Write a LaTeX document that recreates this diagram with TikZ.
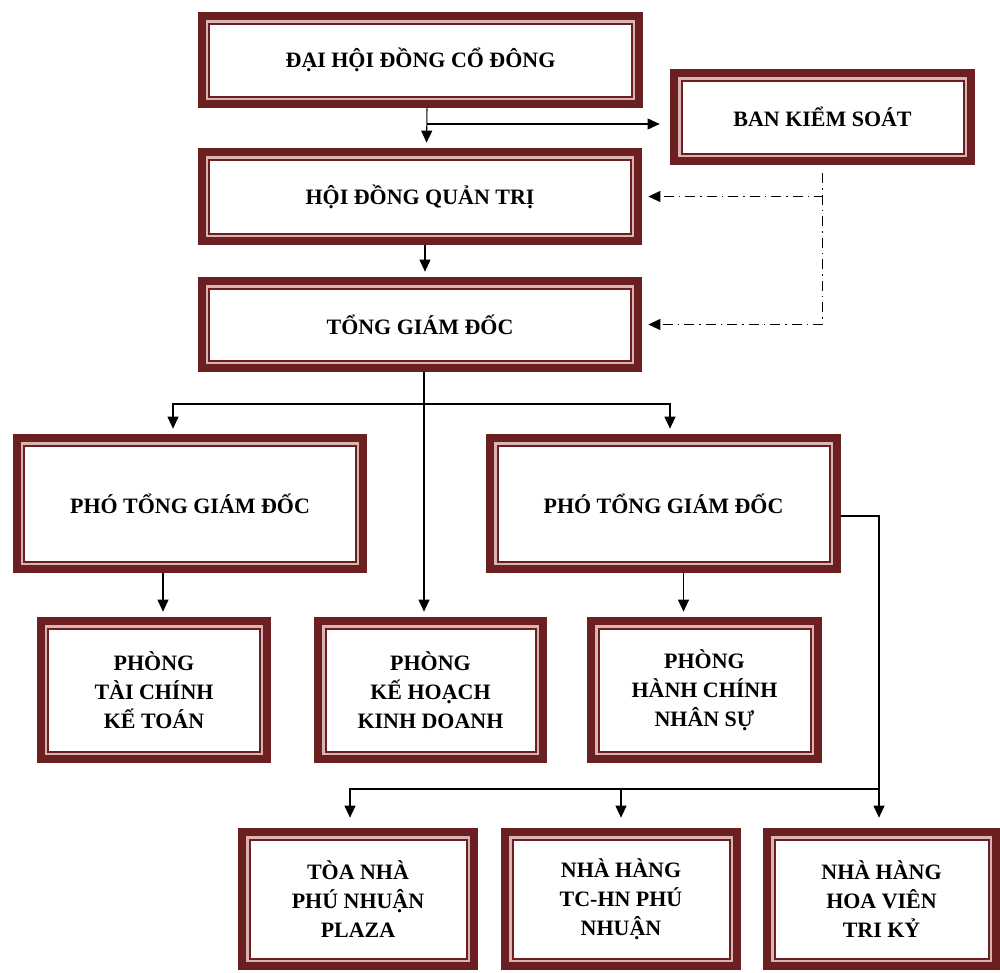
\documentclass[tikz,border=0pt]{standalone}
\usepackage{fontspec}
\setmainfont{Liberation Serif}
\usetikzlibrary{arrows.meta}
\definecolor{nau}{HTML}{6B1F20}
\definecolor{hong}{HTML}{D9B5B2}
\tikzset{
  hop/.style={rectangle, fill=white, align=center, inner sep=0pt,
    font=\fontsize{12.5}{16.5}\selectfont\bfseries,
    path picture={
      \fill[nau] (path picture bounding box.north west) rectangle (path picture bounding box.south east);
      \fill[hong] ([shift={(1.6mm,-1.6mm)}]path picture bounding box.north west) rectangle ([shift={(-1.6mm,1.6mm)}]path picture bounding box.south east);
      \fill[nau] ([shift={(2.1mm,-2.1mm)}]path picture bounding box.north west) rectangle ([shift={(-2.1mm,2.1mm)}]path picture bounding box.south east);
      \fill[white] ([shift={(2.5mm,-2.5mm)}]path picture bounding box.north west) rectangle ([shift={(-2.5mm,2.5mm)}]path picture bounding box.south east);
    }},
  muiten/.style={-{Triangle[length=2.4mm,width=2.2mm]}, line width=0.6pt, shorten >=1mm},
  gachcham/.style={muiten, shorten >=1.2mm, dash pattern=on 2mm off 1mm on 0.3mm off 1mm},
}
\begin{document}
\begin{tikzpicture}[x=0.2mm,y=-0.2mm]
  \useasboundingbox (0,0) rectangle (1000,972);
  % cac khung
  \node[hop, minimum width=89mm, minimum height=19.2mm] (dhdcd) at (420.5,60) {ĐẠI HỘI ĐỒNG CỔ ĐÔNG};
  \node[hop, minimum width=61mm, minimum height=19.2mm] (bks) at (822.5,117) {BAN KIỂM SOÁT};
  \node[hop, minimum width=88.8mm, minimum height=19.4mm] (hdqt) at (420,196.5) {HỘI ĐỒNG QUẢN TRỊ};
  \node[hop, minimum width=88.8mm, minimum height=19mm] (tgd) at (420,324.5) {TỔNG GIÁM ĐỐC};
  \node[hop, minimum width=70.8mm, minimum height=27.8mm] (ptgd1) at (190,503.5) {PHÓ TỔNG GIÁM ĐỐC};
  \node[hop, minimum width=71mm, minimum height=27.8mm] (ptgd2) at (663.5,503.5) {PHÓ TỔNG GIÁM ĐỐC};
  \node[hop, minimum width=46.8mm, minimum height=29.2mm] (tckt) at (154,690) {PHÒNG\\TÀI CHÍNH\\KẾ TOÁN};
  \node[hop, minimum width=46.6mm, minimum height=29.2mm] (khkd) at (430.5,690) {PHÒNG\\KẾ HOẠCH\\KINH DOANH};
  \node[hop, minimum width=47mm, minimum height=29.2mm] (hcns) at (704.5,690) {PHÒNG\\HÀNH CHÍNH\\NHÂN SỰ};
  \node[hop, minimum width=48mm, minimum height=28.4mm] (toanha) at (358,899) {TÒA NHÀ\\PHÚ NHUẬN\\PLAZA};
  \node[hop, minimum width=48mm, minimum height=28.4mm] (tchn) at (621,899) {NHÀ HÀNG\\TC-HN PHÚ\\NHUẬN};
  \node[hop, minimum width=47.4mm, minimum height=28.4mm] (hoavien) at (881.5,899) {NHÀ HÀNG\\HOA VIÊN\\TRI KỶ};
  % duong noi
  \coordinate (r1) at (427,124);
  \coordinate (r2) at (424,404);
  \coordinate (r3) at (879,789);
  \draw[muiten] ([xshift=1.3mm]dhdcd.south) -- ([xshift=1.3mm]hdqt.north);
  \draw[muiten, shorten >=2mm] (r1) -- (r1 -| bks.west);
  \draw[muiten] ([xshift=1mm]hdqt.south) -- ([xshift=1mm]tgd.north);
  \draw[gachcham] ([yshift=-1.6mm]bks.south) |- (hdqt.east);
  \draw[gachcham] ([yshift=-1.6mm]bks.south) |- (tgd.east);
  \draw[muiten] ([xshift=0.8mm]tgd.south) -- ([xshift=0.8mm]tgd.south |- khkd.north);
  \draw[muiten] (r2) -| ([xshift=-3.4mm]ptgd1.north);
  \draw[muiten] (r2) -| ([xshift=1.3mm]ptgd2.north);
  \draw[muiten] ([xshift=1.8mm]tckt.north |- ptgd1.south) -- ([xshift=1.8mm]tckt.north);
  \draw[muiten] ([xshift=4mm]ptgd2.south) -- ([xshift=4mm]ptgd2.south |- hcns.north);
  \draw[muiten, shorten >=2mm] ([yshift=-2.5mm]ptgd2.east) -| (r3 |- hoavien.north);
  \draw[muiten, shorten >=2mm] (r3) -| ([xshift=-1.6mm]toanha.north);
  \draw[muiten, shorten >=2mm] (tchn.north |- r3) -- (tchn.north);
\end{tikzpicture}
\end{document}
